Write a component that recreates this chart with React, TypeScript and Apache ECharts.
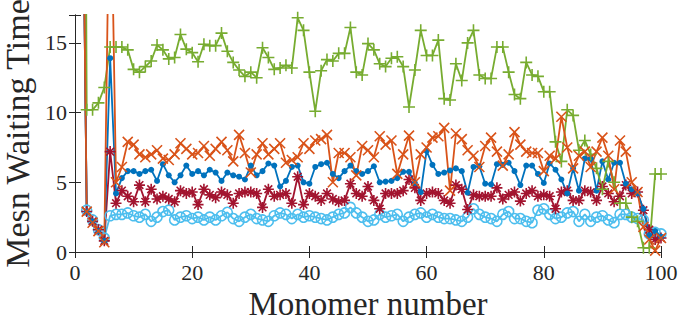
import React, { useEffect, useRef } from "react";
import * as echarts from "echarts";

const monomers: number[] = Array.from({ length: 100 }, (_, i) => i + 1);

const greenPlus: number[] = [
  100, 10.2, 10.2, 10.7, 11.8, 14.7, 14.7, 14.7, 14.5, 13.1,
  12.9, 13.3, 13.7, 14.85, 14.5, 13.85, 13.95, 15.6, 14.55, 14.3,
  13.65, 14.9, 14.8, 14.8, 15.7, 14.4, 13.6, 13.05, 12.6, 12.9,
  12.5, 14.65, 13.95, 13.1, 13.2, 13.4, 13.2, 16.8, 15.9, 12.9,
  10.1, 13.0, 13.8, 13.7, 14.25, 14.25, 16.1, 12.9, 12.7, 14.95,
  14.5, 13.5, 13.3, 13.9, 14.0, 13.3, 10.4, 13.05, 15.9, 14.1,
  14.1, 15.2, 11.0, 10.9, 13.5, 12.3, 15.0, 15.9, 12.7, 12.45,
  12.45, 14.7, 14.7, 12.9, 11.3, 11.0, 13.6, 12.7, 12.6, 11.5,
  11.5, 7.9, 6.5, 10.2, 9.8, 7.3, 8.0, 7.0, 6.0, 4.5,
  6.5, 5.0, 3.5, 3.5, 2.5, 2.2, 0.3, 0.3, 5.6, 5.6,
];

const orangeCross: number[] = [
  40, 2.9, 2.1, 1.5, 0.7, 30, 5.0, 6.1, 7.9, 7.7,
  7.0, 6.8, 7.0, 7.3, 6.7, 6.6, 7.0, 7.8, 7.4, 7.0,
  7.1, 7.6, 6.9, 7.4, 7.9, 7.3, 6.5, 8.4, 7.1, 5.7,
  7.0, 7.8, 7.0, 7.4, 7.8, 6.4, 6.6, 6.8, 7.8, 7.4,
  8.0, 8.1, 8.4, 5.0, 7.1, 7.1, 6.8, 5.5, 7.6, 7.3,
  6.8, 8.3, 7.7, 8.0, 5.6, 7.0, 8.35, 5.0, 7.0, 7.5,
  8.2, 8.3, 8.9, 4.4, 8.5, 8.1, 7.3, 6.9, 6.1, 7.6,
  8.2, 7.2, 6.2, 7.0, 8.6, 7.7, 7.2, 7.1, 7.1, 5.8,
  6.9, 6.7, 9.7, 7.5, 6.0, 6.9, 7.2, 6.1, 7.2, 8.2,
  6.9, 4.5, 8.0, 7.2, 5.0, 4.3, 1.8, 0.9, 0.1, 1.0,
];

const blueDot: number[] = [
  40, 2.9, 2.2, 1.5, 0.8, 13.9, 4.2, 5.3, 5.8, 5.8,
  5.6, 5.8, 5.9, 5.1, 6.3, 5.5, 5.0, 5.5, 6.2, 5.6,
  5.8, 5.5, 5.9, 5.7, 5.1, 5.7, 5.5, 5.4, 5.2, 6.2,
  5.5, 5.8, 6.35, 6.2, 4.7, 5.1, 6.1, 6.2, 5.0, 4.9,
  6.1, 6.3, 6.4, 5.6, 5.3, 5.8, 6.2, 5.8, 5.6, 5.8,
  6.15, 5.0, 5.05, 5.1, 5.3, 5.75, 5.75, 4.95, 4.3, 7.25,
  6.25, 5.6, 5.7, 5.85, 6.0, 5.8, 4.25, 6.1, 6.15, 4.9,
  4.85, 6.3, 6.25, 6.4, 5.8, 4.8, 6.2, 6.2, 5.6, 4.95,
  6.35, 5.9, 5.2, 4.2, 6.0, 4.4, 6.7, 6.7, 4.4, 6.5,
  5.2, 6.4, 6.4, 4.9, 4.5, 4.2, 3.1, 1.2, 1.5, 1.1,
];

const darkRedStar: number[] = [
  40, 2.9, 2.2, 1.6, 0.8, 7.2, 3.5, 4.4, 4.0, 3.6,
  4.8, 3.6, 4.5, 3.8, 4.0, 3.8, 3.6, 4.4, 4.2, 4.3,
  3.4, 4.5, 4.1, 3.9, 4.3, 4.1, 3.5, 4.2, 4.3, 4.3,
  4.2, 3.2, 4.5, 4.0, 4.1, 4.2, 3.5, 5.4, 3.4, 4.2,
  4.0, 3.7, 4.2, 3.8, 3.6, 3.7, 4.9, 4.2, 4.0, 4.7,
  3.7, 3.1, 4.2, 4.2, 4.2, 4.4, 5.2, 4.6, 3.7, 4.2,
  4.3, 4.2, 3.7, 3.5, 4.8, 4.5, 3.05, 4.1, 4.0, 4.0,
  4.0, 4.6, 3.8, 4.1, 4.3, 3.65, 4.2, 4.4, 4.0, 4.1,
  4.0, 3.1, 4.3, 4.4, 3.7, 3.7, 4.4, 4.3, 3.7, 4.7,
  4.2, 3.6, 4.0, 4.8, 4.2, 4.3, 3.0, 1.6, 0.9, 1.0,
];

const lightBlueCircle: number[] = [
  40, 3.0, 2.3, 1.6, 1.0, 2.6, 2.7, 2.7, 2.8, 2.6,
  2.5, 2.7, 2.2, 2.5, 2.9, 3.0, 2.3, 2.5, 2.6, 2.4,
  2.5, 2.3, 2.5, 2.3, 2.6, 2.85, 2.4, 2.2, 2.5, 2.7,
  2.4, 2.3, 2.2, 2.6, 2.8, 2.7, 2.4, 2.7, 2.5, 2.6,
  2.5, 2.4, 2.3, 2.5, 2.7, 2.8, 3.2, 2.8, 2.5, 2.2,
  2.3, 2.7, 2.5, 2.6, 2.7, 2.2, 2.5, 2.7, 2.8, 2.5,
  2.7, 2.5, 2.4, 2.4, 2.3, 2.2, 2.5, 3.1, 2.7, 2.5,
  2.4, 2.2, 2.7, 2.9, 2.4, 2.4, 2.2, 2.1, 3.0, 3.1,
  2.7, 2.4, 2.5, 2.8, 2.9, 2.2, 2.7, 2.2, 2.5, 2.6,
  2.3, 2.1, 2.7, 2.7, 2.5, 2.4, 2.3, 1.3, 1.4, 1.3,
];

const xTickInterval = 20;
const yTickInterval = 5;

const FONT = "Liberation Serif";
const AXIS_COLOR = "#262626";

const PLUS = "path://M5,0L5,10M0,5L10,5";
const CROSS = "path://M0,0L10,10M10,0L0,10";
const STAR = "path://M5,0L5,10M0,5L10,5M1.5,1.5L8.5,8.5M8.5,1.5L1.5,8.5";

function pairs(ys: number[]): [number, number][] {
  return monomers.map((x, i) => [x, ys[i]]);
}

function strokeSeries(name: string, ys: number[], color: string, symbol: string, size: number) {
  return {
    name,
    type: "line",
    data: pairs(ys),
    symbol,
    symbolSize: size,
    showSymbol: true,
    lineStyle: { color, width: 1.8 },
    itemStyle: { color: "rgba(0,0,0,0)", borderColor: color, borderWidth: 1.6 },
    emphasis: { disabled: true },
    clip: true,
  };
}

export default function App() {
  const ref = useRef<HTMLDivElement>(null);
  useEffect(() => {
    if (!ref.current) return;
    const chart = echarts.init(ref.current, undefined, { renderer: "svg" });
    const boxAxis = {
      axisLine: { show: true, lineStyle: { color: AXIS_COLOR, width: 1 } },
      axisTick: { show: true, inside: true, length: 6, lineStyle: { color: AXIS_COLOR, width: 1 } },
      splitLine: { show: false },
    };
    const tickRich = {
      t: { fontFamily: FONT, fontSize: 22, color: AXIS_COLOR, fontWeight: "normal" },
    };
    chart.setOption({
      animation: false,
      backgroundColor: "#ffffff",
      textStyle: { fontFamily: FONT },
      grid: {
        left: 75,
        right: 17,
        top: 15,
        bottom: 74,
        containLabel: false,
        outerBoundsMode: "none",
      },
      xAxis: [
        {
          type: "value",
          min: 0,
          max: 100,
          interval: xTickInterval,
          position: "bottom",
          ...boxAxis,
          axisLabel: {
            fontFamily: FONT,
            fontSize: 22,
            color: AXIS_COLOR,
            margin: 9,
            formatter: (v: number) => "{t|" + v + "}",
            rich: tickRich,
          },
          name: "Monomer number",
          nameLocation: "middle",
          nameGap: 34,
          nameTextStyle: { fontFamily: FONT, fontSize: 33, color: AXIS_COLOR },
        },
        {
          type: "value",
          min: 0,
          max: 100,
          interval: xTickInterval,
          position: "top",
          ...boxAxis,
          axisLabel: { show: false },
        },
      ],
      yAxis: [
        {
          type: "value",
          min: 0,
          max: 17,
          interval: yTickInterval,
          position: "left",
          ...boxAxis,
          axisLabel: {
            fontFamily: FONT,
            fontSize: 22,
            color: AXIS_COLOR,
            margin: 8,
            formatter: (v: number) => (v % yTickInterval === 0 ? "{t|" + v + "}" : ""),
            rich: tickRich,
          },
          name: "Mesn Waiting Time",
          nameLocation: "middle",
          nameGap: 31,
          nameRotate: 90,
          nameTextStyle: { fontFamily: FONT, fontSize: 34, color: AXIS_COLOR },
        },
        {
          type: "value",
          min: 0,
          max: 17,
          interval: yTickInterval,
          position: "right",
          ...boxAxis,
          axisLabel: { show: false },
        },
      ],
      series: [
        {
          name: "light blue",
          type: "line",
          data: pairs(lightBlueCircle),
          symbol: "circle",
          symbolSize: 10,
          lineStyle: { color: "#4DBEEE", width: 1.8 },
          itemStyle: { color: "rgba(0,0,0,0)", borderColor: "#4DBEEE", borderWidth: 1.6 },
          emphasis: { disabled: true },
          clip: true,
        },
        strokeSeries("dark red", darkRedStar, "#A2142F", STAR, 11),
        {
          name: "blue",
          type: "line",
          data: pairs(blueDot),
          symbol: "circle",
          symbolSize: 6,
          lineStyle: { color: "#0072BD", width: 1.8 },
          itemStyle: { color: "#0072BD" },
          emphasis: { disabled: true },
          clip: true,
        },
        strokeSeries("green", greenPlus, "#77AC30", PLUS, 12),
        strokeSeries("orange", orangeCross, "#D95319", CROSS, 10),
      ],
    });
    return () => chart.dispose();
  }, []);
  return (
    <div
      ref={ref}
      style={{ position: "fixed", left: 0, top: 0, width: 678, height: 326 }}
    />
  );
}
